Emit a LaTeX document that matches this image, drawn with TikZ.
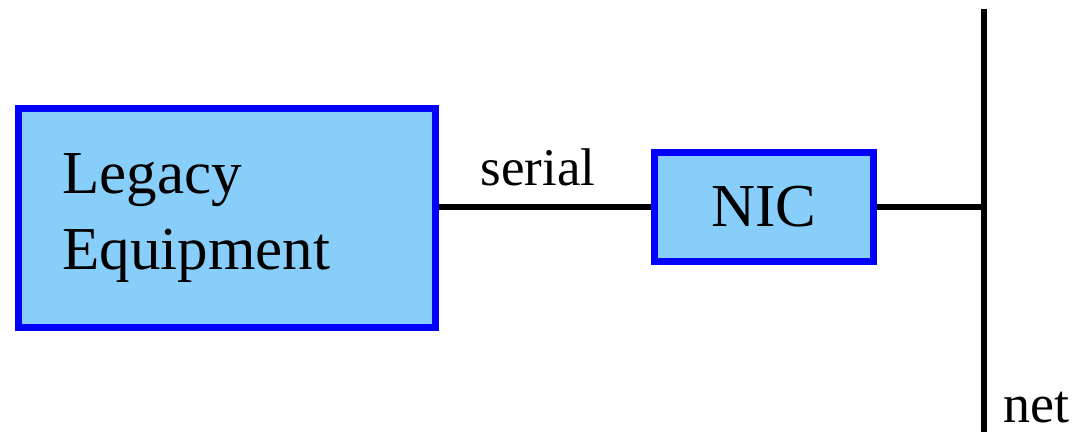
\documentclass[tikz,border=0pt]{standalone}
\usepackage{fontspec}
\setmainfont{Liberation Serif}
\newfontfamily\timesfont{Liberation Serif}
\definecolor{boxfill}{RGB}{136,206,250}
\definecolor{boxline}{RGB}{0,0,255}
\begin{document}
\begin{tikzpicture}[x=1pt,y=-1pt,
  box/.style={draw=boxline,fill=boxfill,line width=7pt,rectangle},
  wire/.style={draw=black,line width=6pt}]
\useasboundingbox (0,0) rectangle (1076,432);
\node[box,minimum width=417pt,minimum height=219pt,text width=329pt,inner xsep=44pt,align=left,
  font=\timesfont\fontsize{61}{76}\selectfont] (legacy) at (227,218) {Legacy\\Equipment};
\node[box,minimum width=219pt,minimum height=109pt,inner sep=0pt,
  font=\timesfont\fontsize{61}{73}\selectfont] (nic) at (764,207) {NIC};
\coordinate (bustop) at (984,9);
\coordinate (busbot) at (984,432);
\coordinate (junction) at (984,207);
\draw[wire] (bustop) -- (busbot);
\draw[wire] (legacy.east |- nic.west) -- (nic.west);
\draw[wire] (nic.east) -- (junction);
\node[anchor=base,inner sep=0pt,font=\timesfont\fontsize{53}{60}\selectfont] (serial) at (538,185) {serial};
\node[anchor=base west,inner sep=0pt,font=\timesfont\fontsize{54}{60}\selectfont] (net) at (1003,422) {net};
\end{tikzpicture}
\end{document}
